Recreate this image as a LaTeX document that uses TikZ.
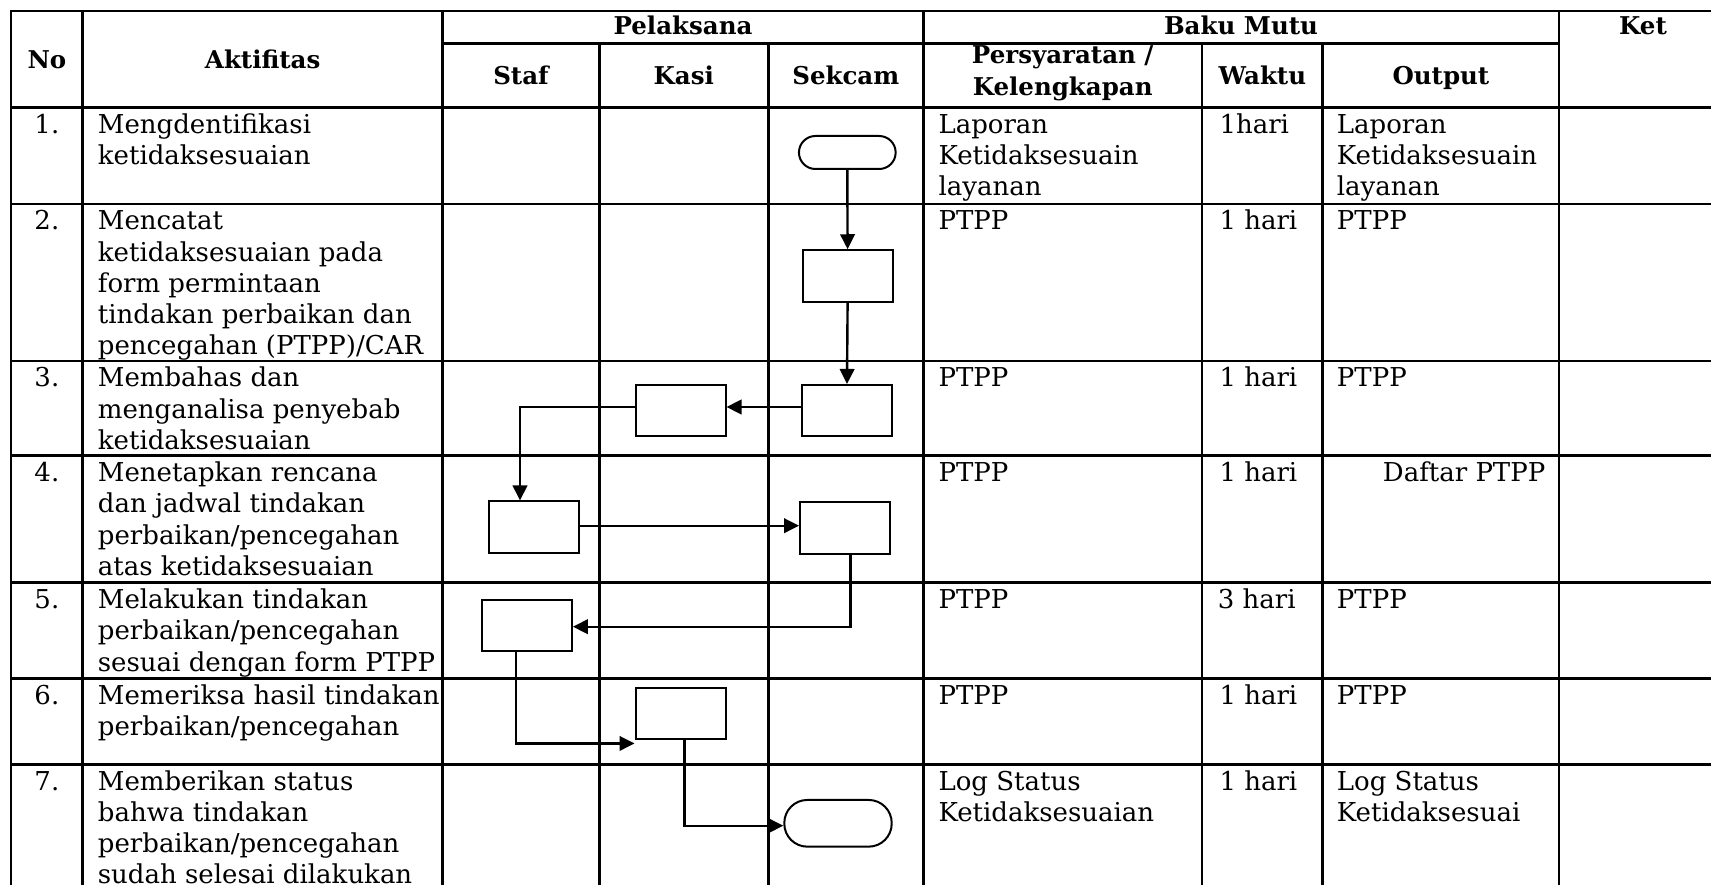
\documentclass[tikz,border=0pt]{standalone}
\usepackage{fontspec}
\setmainfont{DejaVu Serif}
\usetikzlibrary{arrows.meta,calc}
\newcommand{\fl}{\rule{0pt}{22pt}}
\begin{document}
\begin{tikzpicture}[x=1pt,y=-1pt,
  tline/.style={line width=2.7pt, line cap=rect},
  procbox/.style={draw, line width=2pt, rectangle, inner sep=0pt, minimum width=90pt, minimum height=51.5pt},
  termbox/.style={draw, line width=2pt, rectangle, inner sep=0pt},
  conn/.style={line width=2.4pt, -{Triangle[length=15pt,width=14.5pt]}},
  body/.style={anchor=north west, inner sep=0pt, align=left, font=\fontsize{26}{31.3}\selectfont},
  num/.style={anchor=north, inner sep=0pt, font=\fontsize{26}{31.3}\selectfont},
  head/.style={anchor=base, inner sep=0pt, font=\bfseries\fontsize{24.5}{32}\selectfont}]
\useasboundingbox (0,0) rectangle (1711,885);
\clip (0,0) rectangle (1711,885);

% ---------- table grid ----------
\draw[tline] (11,11) -- (1727,11);
\draw[tline] (442.7,43.3) -- (1559,43.3);
\foreach \yy in {107.7,204,361,455.7,582.7,678.5,764.3,900}
  \draw[tline] (11,\yy) -- (1727,\yy);
\foreach \xx in {11,82.7,442.7,923.3,1559,1727}
  \draw[tline] (\xx,11) -- (\xx,900);
\foreach \xx in {599.3,768.3,1202,1322.7}
  \draw[tline] (\xx,43.3) -- (\xx,900);

% ---------- headers ----------
\node[head] (hno) at (46.9,68.3) {No};
\node[head] (hakt) at (262.7,68.3) {Aktifitas};
\node[head] (hpel) at (683,35) {Pelaksana};
\node[head] (hbaku) at (1241,35) {Baku Mutu};
\node[head] (hket) at (1643,35) {Ket};
\node[head] (hstaf) at (521,85) {Staf};
\node[head] (hkasi) at (683.8,85) {Kasi};
\node[head] (hsek) at (845.8,85) {Sekcam};
\node[head] (hper1) at (1062.7,64) {Persyaratan /};
\node[head] (hper2) at (1062.7,96) {Kelengkapan};
\node[head] (hwak) at (1262.4,85) {Waktu};
\node[head] (hout) at (1440.9,85) {Output};

% ---------- row texts ----------
% row 1
\node[num] (n1) at (46.9,111.2) {\fl 1.};
\node[body] (a1) at (97.7,111.2) {\fl Mengdentifikasi\\ketidaksesuaian};
\node[body] (p1) at (938.3,111.2) {\fl Laporan\\Ketidaksesuain\\layanan};
\node[body] (w1) at (1219.3,111.2) {\fl 1hari};
\node[body] (o1) at (1336.7,111.2) {\fl Laporan\\Ketidaksesuain\\layanan};
% row 2
\node[num] (n2) at (46.9,207.5) {\fl 2.};
\node[body] (a2) at (97.7,207.5) {\fl Mencatat\\ketidaksesuaian pada\\form permintaan\\tindakan perbaikan dan\\pencegahan (PTPP)/CAR};
\node[body] (p2) at (938.3,207.5) {\fl PTPP};
\node[body] (w2) at (1219.3,207.5) {\fl 1 hari};
\node[body] (o2) at (1336.7,207.5) {\fl PTPP};
% row 3
\node[num] (n3) at (46.9,364.5) {\fl 3.};
\node[body] (a3) at (97.7,364.5) {\fl Membahas dan\\menganalisa penyebab\\ketidaksesuaian};
\node[body] (p3) at (938.3,364.5) {\fl PTPP};
\node[body] (w3) at (1219.3,364.5) {\fl 1 hari};
\node[body] (o3) at (1336.7,364.5) {\fl PTPP};
% row 4
\node[num] (n4) at (46.9,459.2) {\fl 4.};
\node[body] (a4) at (97.7,459.2) {\fl Menetapkan rencana\\dan jadwal tindakan\\perbaikan/pencegahan\\atas ketidaksesuaian};
\node[body] (p4) at (938.3,459.2) {\fl PTPP};
\node[body] (w4) at (1219.3,459.2) {\fl 1 hari};
\node[body] (o4) at (1382.7,459.2) {\fl Daftar PTPP};
% row 5
\node[num] (n5) at (46.9,586.2) {\fl 5.};
\node[body] (a5) at (97.7,586.2) {\fl Melakukan tindakan\\perbaikan/pencegahan\\sesuai dengan form PTPP};
\node[body] (p5) at (938.3,586.2) {\fl PTPP};
\node[body] (w5) at (1217.7,586.2) {\fl 3 hari};
\node[body] (o5) at (1336.7,586.2) {\fl PTPP};
% row 6
\node[num] (n6) at (46.9,682) {\fl 6.};
\node[body] (a6) at (97.7,682) {\fl Memeriksa hasil tindakan\\perbaikan/pencegahan};
\node[body] (p6) at (938.3,682) {\fl PTPP};
\node[body] (w6) at (1219.3,682) {\fl 1 hari};
\node[body] (o6) at (1336.7,682) {\fl PTPP};
% row 7
\node[num] (n7) at (46.9,767.8) {\fl 7.};
\node[body] (a7) at (97.7,767.8) {\fl Memberikan status\\bahwa tindakan\\perbaikan/pencegahan\\sudah selesai dilakukan};
\node[body] (p7) at (938.3,767.8) {\fl Log Status\\Ketidaksesuaian};
\node[body] (w7) at (1219.3,767.8) {\fl 1 hari};
\node[body] (o7) at (1336.7,767.8) {\fl Log Status\\Ketidaksesuai};

% ---------- flow shapes ----------
\node[termbox, minimum width=96.7pt, minimum height=33pt, rounded corners=16.5pt] (t1) at (847.3,152.5) {};
\node[procbox] (b2) at (847.6,276) {};
\node[procbox] (b3s) at (847,410.7) {};
\node[procbox] (b3k) at (680.5,410.7) {};
\node[procbox] (b4st) at (533.8,527.2) {};
\node[procbox] (b4sk) at (845,528) {};
\node[procbox] (b5st) at (526.9,625.7) {};
\node[procbox] (b6k) at (680.5,713.4) {};
\node[termbox, minimum width=107.4pt, minimum height=46.7pt, rounded corners=23pt] (t7) at (838,823.3) {};

% ---------- connectors ----------
\draw[conn] (t1.south) -- (b2.north);
\draw[conn] (b2.south) -- (b3s.north);
\draw[conn] ($(b3s.west)+(0,-3.7)$) -- ($(b3k.east)+(0,-3.7)$);
\draw[conn] ($(b3k.west)+(0,-3.7)$) -| ($(b4st.north)+(-13.8,0)$);
\draw[conn] ($(b4st.east)+(0,-1.5)$) -- ($(b4sk.west)+(0,-2.3)$);
\draw[conn] ($(b4sk.south)+(5.5,0)$) |- ($(b5st.east)+(0,1)$);
\draw[conn] ($(b5st.south)+(-10.9,0)$) |- ($(b6k.south west)+(0,3.3)$);
\draw[conn] ($(b6k.south)+(3.8,0)$) |- ($(t7.west)+(0,2.4)$);
\end{tikzpicture}
\end{document}
